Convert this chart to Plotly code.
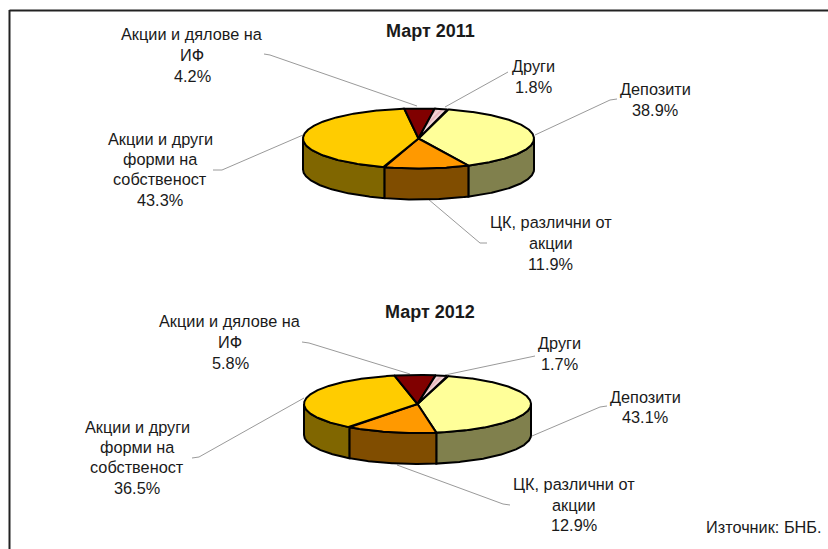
import numpy as np
import plotly.graph_objects as go

# ---- data ----
slice_names = ["Депозити", "ЦК, различни от акции", "Акции и други форми на собственост", "Акции и дялове на ИФ", "Други"]
values_2011 = [38.9, 11.9, 43.3, 4.2, 1.8]
values_2012 = [43.1, 12.9, 36.5, 5.8, 1.7]
top_colors = ["#FFFF99", "#FF9900", "#FFCC00", "#800000", "#E8B8BC"]
side_colors = ["#80804D", "#804D00", "#806600", "#400000", "#7A6869"]

titles = ["Март 2011", "Март 2012"]
source_text = "Източник: БНБ."

labels_2011 = [
    (["Депозити", "38.9%"], 655, [89, 110]),
    (["ЦК, различни от", "акции", "11.9%"], 550.5, [222, 243, 264]),
    (["Акции и други", "форми на", "собственост", "43.3%"], 160, [139, 159, 179, 200]),
    (["Акции и дялове на", "ИФ", "4.2%"], 192, [34, 55, 76]),
    (["Други", "1.8%"], 533, [66, 87]),
]
labels_2012 = [
    (["Депозити", "43.1%"], 645, [397, 417]),
    (["ЦК, различни от", "акции", "12.9%"], 574, [484, 505, 525]),
    (["Акции и други", "форми на", "собственост", "36.5%"], 137, [427, 447, 467, 488]),
    (["Акции и дялове на", "ИФ", "5.8%"], 230, [321, 342, 363]),
    (["Други", "1.7%"], 559, [343, 364]),
]
leaders_2011 = [
    [(617, 99), (610, 100), (535, 135)],
    [(487, 243), (480, 243), (428, 199)],
    [(213, 170), (222, 170), (303, 135)],
    [(264, 54), (270, 55), (417, 106)],
    [(508, 72), (445, 107)],
]
leaders_2012 = [
    [(607, 406), (600, 407), (532, 436)],
    [(510, 505), (503, 504), (397, 465)],
    [(192, 458), (199, 457), (304, 398)],
    [(302, 342), (309, 343), (410, 374)],
    [(535, 356), (445, 375)],
]
# pie geometry: centre x, centre y, radius x, radius y, depth, first slice start angle
geom_2011 = (418.5, 138.5, 115.5, 30, 31, 14.5)
geom_2012 = (417.5, 404, 113.5, 29, 31, 15.3)

fig = go.Figure()


def arc(cx, cy, a, b, t0, t1):
    t = np.radians(np.linspace(t0, t1, max(int(abs(t1 - t0)) * 2, 2)))
    return cx + a * np.sin(t), cy - b * np.cos(t)


def add_poly(x, y, color, hatch=False):
    extra = {}
    if hatch:
        extra["fillpattern"] = dict(shape="/", bgcolor=color, fgcolor="#FFFFFF", size=4, solidity=0.4)
    fig.add_trace(go.Scatter(
        x=list(x), y=list(y), mode="lines", fill="toself", fillcolor=color,
        line=dict(color="#000000", width=2), hoverinfo="skip", showlegend=False, **extra))


def draw_pie(values, geom):
    cx, cy, a, b, d, start = geom
    total = sum(values)
    edges = start + np.concatenate([[0], np.cumsum(values)]) / total * 360
    # side walls (front half only)
    for i in range(len(values)):
        t0, t1 = max(edges[i], 90), min(edges[i + 1], 270)
        if t1 > t0:
            x, y = arc(cx, cy, a, b, t0, t1)
            add_poly(np.r_[x, x[::-1], x[0]], np.r_[y, y[::-1] + d, y[0]], side_colors[i])
    # top surface
    for i in range(len(values)):
        x, y = arc(cx, cy, a, b, edges[i], edges[i + 1])
        add_poly(np.r_[cx, x, cx], np.r_[cy, y, cy], top_colors[i], hatch=(i == 4))


def draw_leaders(leaders):
    for pts in leaders:
        fig.add_trace(go.Scatter(
            x=[p[0] for p in pts], y=[p[1] for p in pts], mode="lines",
            line=dict(color="#9A9A9A", width=1), hoverinfo="skip", showlegend=False))


def draw_labels(labels):
    for lines, x, ys in labels:
        for text, y in zip(lines, ys):
            fig.add_annotation(x=x, y=y, text=text, showarrow=False, xanchor="center", yanchor="middle")


draw_leaders(leaders_2011)
draw_leaders(leaders_2012)
draw_pie(values_2011, geom_2011)
draw_pie(values_2012, geom_2012)
draw_labels(labels_2011)
draw_labels(labels_2012)

fig.add_annotation(x=430, y=31, text=f"<b>{titles[0]}</b>", showarrow=False, font=dict(size=18))
fig.add_annotation(x=430, y=312, text=f"<b>{titles[1]}</b>", showarrow=False, font=dict(size=18))
fig.add_annotation(x=764, y=527, text=source_text, showarrow=False)

# outer frame
fig.add_shape(type="line", x0=9.5, x1=828, y0=10.5, y1=10.5, line=dict(color="#222222", width=2))
fig.add_shape(type="line", x0=9.5, x1=9.5, y0=10, y1=549, line=dict(color="#222222", width=2))

fig.update_layout(
    width=828, height=549, margin=dict(l=0, r=0, t=0, b=0),
    paper_bgcolor="white", plot_bgcolor="white", showlegend=False,
    font=dict(family="Liberation Sans, Arial, sans-serif", size=16.3, color="#1a1a1a"),
    xaxis=dict(range=[0, 828], visible=False, fixedrange=True),
    yaxis=dict(range=[549, 0], visible=False, fixedrange=True),
)
fig.write_html("out.html", config={"displayModeBar": False},
               post_script="document.body.style.margin='0';document.body.style.overflow='hidden';")
